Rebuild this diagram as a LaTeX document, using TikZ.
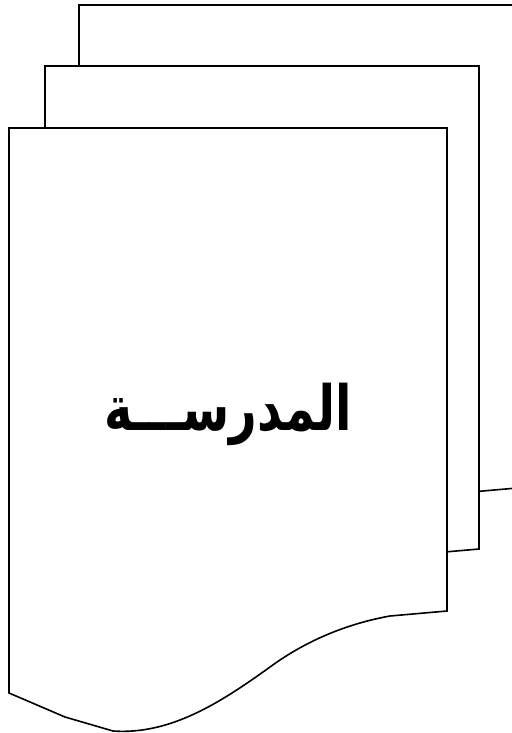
\documentclass[tikz,border=0pt]{standalone}
\usepackage{fontspec}
\newfontfamily\arabicfont[Script=Arabic]{DejaVu Sans}
\TeXXeTstate=1
\tikzstyle{sheet}=[draw=black, fill=white, line width=1.6pt, line join=miter]
\tikzstyle{title}=[font=\arabicfont\bfseries\fontsize{48}{56}\selectfont, inner sep=0pt]

\begin{document}
\begin{tikzpicture}[x=1pt, y=-1pt]
  \useasboundingbox (0,0) rectangle (511,733);
  % Sheets, back to front
  \foreach \dx/\dy/\w in {79/5/438, 45/66/434, 9/128/438}{
    \draw[sheet, shift={(\dx,\dy)}] (0,0) -- (\w,0) -- (\w,483) -- ({\w-57},488)
      .. controls ({\w-107},497) and ({\w-147},517) .. ({\w-177},539)
      .. controls ({\w-227},575) and ({\w-277},607) .. ({\w-334},603)
      -- (56,589) -- (0,565) -- cycle;
  }
  % Label
  \node[title, anchor=base] (school) at (228,430) {\scalebox{1}[1.3]{\beginR المدرســـة\endR}};
\end{tikzpicture}
\end{document}
